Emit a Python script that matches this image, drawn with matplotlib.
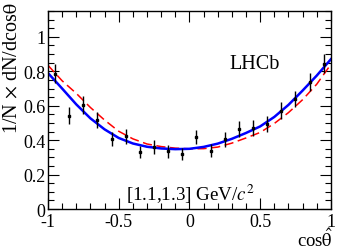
import numpy as np
import matplotlib
matplotlib.use("Agg")
import matplotlib.pyplot as plt
from matplotlib.ticker import MultipleLocator

# data points (bin centres, values, errors)
x_pts = [-0.95, -0.85, -0.75, -0.65, -0.55, -0.45, -0.35, -0.25, -0.15, -0.05,
         0.05, 0.15, 0.25, 0.35, 0.45, 0.55, 0.65, 0.75, 0.85, 0.95]
y_pts = [0.785, 0.543, 0.605, 0.517, 0.407, 0.423, 0.332, 0.359, 0.335, 0.318,
         0.417, 0.339, 0.405, 0.465, 0.470, 0.494, 0.572, 0.640, 0.736, 0.845]
y_err = [0.055, 0.048, 0.050, 0.045, 0.043, 0.043, 0.037, 0.040, 0.037, 0.035,
         0.040, 0.037, 0.043, 0.045, 0.045, 0.045, 0.047, 0.048, 0.052, 0.057]

# fitted curves
x_curve = [-1.0, -0.9, -0.8, -0.7, -0.6, -0.5, -0.4, -0.3, -0.2, -0.1, 0.0,
           0.1, 0.2, 0.3, 0.4, 0.5, 0.6, 0.7, 0.8, 0.9, 1.0]
blue_curve = [0.790, 0.700, 0.608, 0.527, 0.463, 0.413, 0.381, 0.362, 0.352, 0.348, 0.350,
              0.361, 0.380, 0.408, 0.442, 0.480, 0.535, 0.605, 0.688, 0.775, 0.870]
red_curve = [0.835, 0.745, 0.672, 0.590, 0.517, 0.452, 0.408, 0.378, 0.363, 0.354, 0.350,
             0.351, 0.360, 0.383, 0.413, 0.445, 0.497, 0.560, 0.635, 0.725, 0.840]

plt.rcParams["font.family"] = ["Liberation Serif", "DejaVu Serif"]
plt.rcParams["mathtext.fontset"] = "stix"
plt.rcParams["axes.unicode_minus"] = False

fig = plt.figure(figsize=(3.49, 2.51), dpi=100)
ax = fig.add_axes([0.1375, 0.163, 0.8105, 0.789])

ax.plot(x_curve, red_curve, color="red", lw=1.1, dashes=(6, 3))
ax.plot(x_curve, blue_curve, color="blue", lw=1.8)
ax.errorbar(x_pts, y_pts, yerr=y_err, fmt="s", color="black", ms=1.7,
            elinewidth=1.0, capsize=0)

ax.set_xlim(-1, 1)
ax.set_ylim(0, 1.15)
ax.xaxis.set_minor_locator(MultipleLocator(0.1))
ax.yaxis.set_minor_locator(MultipleLocator(0.05))
ax.set_xticks([-1, -0.5, 0, 0.5, 1])
ax.set_xticklabels(["-1", "-0.5", "0", "0.5", "1"])
ax.set_yticks([0, 0.2, 0.4, 0.6, 0.8, 1.0])
ax.set_yticklabels(["0", "0.2", "0.4", "0.6", "0.8", "1"])
ax.tick_params(which="both", direction="in", top=True, right=True, labelsize=13, width=0.8)
ax.tick_params(axis="y", which="major", length=8, pad=2)
ax.tick_params(axis="x", which="major", length=8, pad=3)
ax.tick_params(which="minor", length=4)
for s in ax.spines.values():
    s.set_linewidth(1.0)

fig.text(0.029, 0.99, r"1/N $\times$ dN/dcos$\hat{\mathrm{\theta}}$", rotation=90,
         ha="center", va="top", fontsize=14.5)
fig.text(0.955, 1 - 247 / 251, r"cos$\hat{\mathrm{\theta}}$", ha="right", va="baseline",
         fontsize=13.5)
ax.text(0.73, 0.735, "LHCb", transform=ax.transAxes, fontsize=14.5, ha="center", va="center")
ax.text(0.505, 0.08, r"[1.1,1.3] GeV/$c^2$", transform=ax.transAxes, fontsize=13.7,
        ha="center", va="center")

fig.savefig("out.png", dpi=100)
